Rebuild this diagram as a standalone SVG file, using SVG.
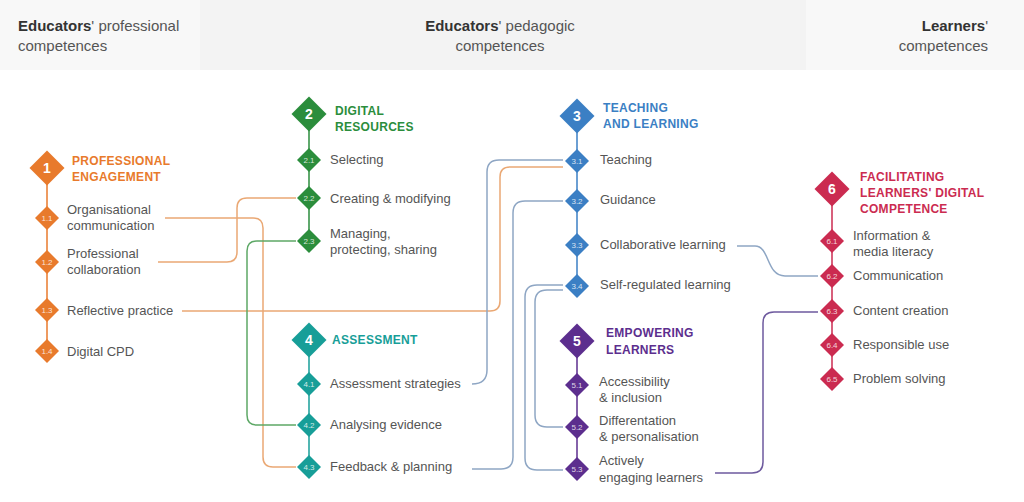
<svg xmlns="http://www.w3.org/2000/svg" width="1024" height="502" viewBox="0 0 1024 502">
<style>
.hd{font-family:"Liberation Sans",Arial,sans-serif;font-size:15px;fill:#555}
.hb{font-weight:bold;fill:#333}
.t{font-family:"Liberation Sans",Arial,sans-serif;font-size:13px;fill:#555}
.ti{font-family:"Liberation Sans",Arial,sans-serif;font-size:12px;font-weight:bold;letter-spacing:0.3px}
.num{font-family:"Liberation Sans",Arial,sans-serif;font-size:14px;font-weight:bold;fill:#fff;text-anchor:middle}
.sn{font-family:"Liberation Sans",Arial,sans-serif;font-size:8px;fill:#fff;fill-opacity:0.8;text-anchor:middle}
.conn path{fill:none;stroke-width:1.5}
.co{stroke:#eaa874}
.cg{stroke:#5da866}
.cb{stroke:#8ea6c4}
.cp{stroke:#6e5a9e}
.spine{stroke-width:1.5}
</style>
<defs>
<path id="big" d="M0,-17.5 L17.5,0 L0,17.5 L-17.5,0 Z" stroke-linejoin="round"/>
<path id="sm" d="M0,-12 L12,0 L0,12 L-12,0 Z"/>
</defs>
<rect x="0" y="0" width="1024" height="70" fill="#f8f8f8"/>
<rect x="200" y="0" width="606" height="70" fill="#f3f3f3"/>
<g id="header">
<text class="hd" x="18" y="31"><tspan class="hb">Educators</tspan>' professional</text>
<text class="hd" x="18" y="51">competences</text>
<text class="hd" x="500" y="31" text-anchor="middle"><tspan class="hb">Educators</tspan>' pedagogic</text>
<text class="hd" x="500" y="51" text-anchor="middle">competences</text>
<text class="hd" x="988" y="31" text-anchor="end"><tspan class="hb">Learners</tspan>'</text>
<text class="hd" x="988" y="51" text-anchor="end">competences</text>
</g>
<g id="connectors" class="conn">
<path class="co" d="M165,218 H253 Q263,218 263,228 V457 Q263,467 273,467 H296"/>
<path class="co" d="M158,262 H227 Q237,262 237,252 V208 Q237,198 247,198 H296"/>
<path class="co" d="M182,311 H490 Q500,311 500,301 V177 Q500,167 510,167 H563"/>
<path class="cg" d="M296,241 H257 Q247,241 247,251 V415 Q247,425 257,425 H296"/>
<path class="cb" d="M472,384 Q487,384 487,370 V172 Q487,160 499,160 H563"/>
<path class="cb" d="M563,201 H525 Q513,201 513,213 V457 Q513,469 501,469 H472"/>
<path class="cb" d="M563,285 H537 Q525,285 525,297 V458 Q525,470 537,470 H563"/>
<path class="cb" d="M563,290 H547 Q535,290 535,302 V415 Q535,427 547,427 H563"/>
<path class="cb" d="M737,246 H755 C770,246 766,276 785,276 H818"/>
<path class="cp" d="M715,473 H752 Q763,473 763,462 V323 Q763,312 774,312 H818"/>
</g>
<g id="area1" fill="#e87a2c">
<line class="spine" x1="47" y1="168" x2="47" y2="351" stroke="#e87a2c"/>
<use href="#big" x="47" y="168"/>
<text class="num" x="47" y="173">1</text>
<text class="ti" x="72" y="165" fill="#e87a2c">PROFESSIONAL</text>
<text class="ti" x="72" y="181" fill="#e87a2c">ENGAGEMENT</text>
<g id="n11"><use href="#sm" x="47" y="218"/><text class="sn" x="47" y="220.8">1.1</text><text class="t" x="67" y="214">Organisational</text><text class="t" x="67" y="230">communication</text></g>
<g id="n12"><use href="#sm" x="47" y="262"/><text class="sn" x="47" y="264.8">1.2</text><text class="t" x="67" y="258">Professional</text><text class="t" x="67" y="274">collaboration</text></g>
<g id="n13"><use href="#sm" x="47" y="310"/><text class="sn" x="47" y="312.8">1.3</text><text class="t" x="67" y="315">Reflective practice</text></g>
<g id="n14"><use href="#sm" x="47" y="351"/><text class="sn" x="47" y="353.8">1.4</text><text class="t" x="67" y="356">Digital CPD</text></g>
</g>
<g id="area2" fill="#2b8d3c">
<line class="spine" x1="309" y1="114" x2="309" y2="241" stroke="#2b8d3c"/>
<use href="#big" x="309" y="114"/>
<text class="num" x="309" y="119">2</text>
<text class="ti" x="335" y="115" fill="#2b8d3c">DIGITAL</text>
<text class="ti" x="335" y="131" fill="#2b8d3c">RESOURCES</text>
<g id="n21"><use href="#sm" x="309" y="160"/><text class="sn" x="309" y="162.8">2.1</text><text class="t" x="330" y="164">Selecting</text></g>
<g id="n22"><use href="#sm" x="309" y="198"/><text class="sn" x="309" y="200.8">2.2</text><text class="t" x="330" y="203">Creating &amp; modifying</text></g>
<g id="n23"><use href="#sm" x="309" y="241"/><text class="sn" x="309" y="243.8">2.3</text><text class="t" x="330" y="238">Managing,</text><text class="t" x="330" y="254">protecting, sharing</text></g>
</g>
<g id="area3" fill="#3b7fc4">
<line class="spine" x1="577" y1="116" x2="577" y2="285" stroke="#3b7fc4"/>
<use href="#big" x="577" y="116"/>
<text class="num" x="577" y="121">3</text>
<text class="ti" x="603" y="112" fill="#3b7fc4">TEACHING</text>
<text class="ti" x="603" y="128" fill="#3b7fc4">AND LEARNING</text>
<g id="n31"><use href="#sm" x="577" y="161"/><text class="sn" x="577" y="163.8">3.1</text><text class="t" x="600" y="164">Teaching</text></g>
<g id="n32"><use href="#sm" x="577" y="201"/><text class="sn" x="577" y="203.8">3.2</text><text class="t" x="600" y="204">Guidance</text></g>
<g id="n33"><use href="#sm" x="577" y="245"/><text class="sn" x="577" y="247.8">3.3</text><text class="t" x="600" y="249">Collaborative learning</text></g>
<g id="n34"><use href="#sm" x="577" y="286"/><text class="sn" x="577" y="288.8">3.4</text><text class="t" x="600" y="289">Self-regulated learning</text></g>
</g>
<g id="area4" fill="#179e98">
<line class="spine" x1="309" y1="340" x2="309" y2="467" stroke="#179e98"/>
<use href="#big" x="309" y="340"/>
<text class="num" x="309" y="345">4</text>
<text class="ti" x="332" y="344" fill="#179e98">ASSESSMENT</text>
<g id="n41"><use href="#sm" x="309" y="384"/><text class="sn" x="309" y="386.8">4.1</text><text class="t" x="330" y="388">Assessment strategies</text></g>
<g id="n42"><use href="#sm" x="309" y="425"/><text class="sn" x="309" y="427.8">4.2</text><text class="t" x="330" y="429">Analysing evidence</text></g>
<g id="n43"><use href="#sm" x="309" y="467"/><text class="sn" x="309" y="469.8">4.3</text><text class="t" x="330" y="471">Feedback &amp; planning</text></g>
</g>
<g id="area5" fill="#5c2e8e">
<line class="spine" x1="577" y1="341" x2="577" y2="469" stroke="#5c2e8e"/>
<use href="#big" x="577" y="341"/>
<text class="num" x="577" y="346">5</text>
<text class="ti" x="606" y="337" fill="#5c2e8e">EMPOWERING</text>
<text class="ti" x="606" y="354" fill="#5c2e8e">LEARNERS</text>
<g id="n51"><use href="#sm" x="577" y="385"/><text class="sn" x="577" y="387.8">5.1</text><text class="t" x="599" y="386">Accessibility</text><text class="t" x="599" y="402">&amp; inclusion</text></g>
<g id="n52"><use href="#sm" x="577" y="427"/><text class="sn" x="577" y="429.8">5.2</text><text class="t" x="599" y="425">Differentation</text><text class="t" x="599" y="441">&amp; personalisation</text></g>
<g id="n53"><use href="#sm" x="577" y="469"/><text class="sn" x="577" y="471.8">5.3</text><text class="t" x="599" y="465">Actively</text><text class="t" x="599" y="482">engaging learners</text></g>
</g>
<g id="area6" fill="#cb2b50">
<line class="spine" x1="832" y1="189" x2="832" y2="379" stroke="#cb2b50"/>
<use href="#big" x="832" y="189"/>
<text class="num" x="832" y="194">6</text>
<text class="ti" x="860" y="181" fill="#cb2b50">FACILITATING</text>
<text class="ti" x="860" y="197" fill="#cb2b50">LEARNERS' DIGITAL</text>
<text class="ti" x="860" y="213" fill="#cb2b50">COMPETENCE</text>
<g id="n61"><use href="#sm" x="832" y="241"/><text class="sn" x="832" y="243.8">6.1</text><text class="t" x="853" y="240">Information &amp;</text><text class="t" x="853" y="256">media literacy</text></g>
<g id="n62"><use href="#sm" x="832" y="276"/><text class="sn" x="832" y="278.8">6.2</text><text class="t" x="853" y="280">Communication</text></g>
<g id="n63"><use href="#sm" x="832" y="311"/><text class="sn" x="832" y="313.8">6.3</text><text class="t" x="853" y="315">Content creation</text></g>
<g id="n64"><use href="#sm" x="832" y="345"/><text class="sn" x="832" y="347.8">6.4</text><text class="t" x="853" y="349">Responsible use</text></g>
<g id="n65"><use href="#sm" x="832" y="379"/><text class="sn" x="832" y="381.8">6.5</text><text class="t" x="853" y="383">Problem solving</text></g>
</g>
</svg>
